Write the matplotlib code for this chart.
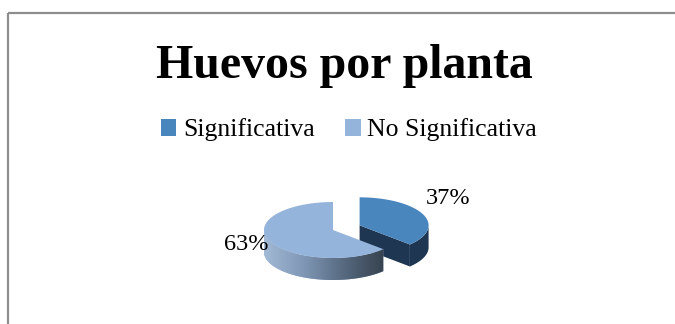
import numpy as np
import matplotlib.pyplot as plt
from matplotlib.patches import Polygon, Rectangle, Patch

plt.rcParams['font.family'] = ['Liberation Serif', 'DejaVu Serif']

title = "Huevos por planta"
categories = ["Significativa", "No Significativa"]
values = [37, 63]

top_colors = ["#4a86be", "#95b4db"]
side_colors = ["#1f3652", "#8fa8c8"]

W, H = 675, 324
fig = plt.figure(figsize=(W / 100, H / 100), dpi=100)
ax = fig.add_axes([0, 0, 1, 1])
ax.set_xlim(0, W)
ax.set_ylim(H, 0)
ax.axis("off")

# chart frame (right and bottom edges are cut off in the original)
ax.add_patch(Rectangle((7.5, 12.5), W + 20, H + 20, fill=False,
                       edgecolor="#8e8e8e", lw=1.6))

ax.text(344, 78, title, ha="center", va="baseline",
        fontsize=34.5, fontweight="bold")

# pseudo 3d pie, in pixel units
cx, cy = 333, 230
rx, ry, depth = 69, 28, 22
explode = [0.42, 0.0]
label_ang = [37, 203]
label_r = [1.6, 1.36]


def pt(x0, y0, a):
    r = np.radians(a)
    return x0 + rx * np.cos(r), y0 - ry * np.sin(r)


fracs = np.array(values) / sum(values)
start = 90.0
slices = []
for i, f in enumerate(fracs):
    a1 = start
    a0 = start - f * 360
    mid = (a0 + a1) / 2
    mr = np.radians(mid)
    ox = cx + explode[i] * rx * np.cos(mr)
    oy = cy - explode[i] * ry * np.sin(mr)
    slices.append((a0, a1, ox, oy, mid))
    start = a0

for i, (a0, a1, ox, oy, mid) in enumerate(slices):
    # radial face at the clockwise end, visible when it faces the viewer
    n = np.radians(a0 - 90)
    if np.sin(n) < -0.05:
        ex, ey = pt(ox, oy, a0)
        face = [(ox, oy), (ex, ey), (ex, ey + depth), (ox, oy + depth)]
        ax.add_patch(Polygon(face, closed=True, facecolor=side_colors[i] if i == 0 else "#5a6f88",
                             edgecolor="none"))
    # outer wall, front half only
    lo = a0
    hi = a1
    # map angles into the range where sin<0 (front)
    angs = np.linspace(lo, hi, 300)
    front = np.sin(np.radians(angs)) < 0
    if front.any():
        fa = angs[front]
        xs, ys = pt(ox, oy, fa)
        wall = np.vstack([np.column_stack([xs, ys]),
                          np.column_stack([xs[::-1], ys[::-1] + depth])])
        poly = Polygon(wall, closed=True, facecolor=side_colors[i], edgecolor="none")
        ax.add_patch(poly)
        if i == 1:
            # shaded wall: light on the left, dark on the right
            grad = np.linspace(0, 1, 256)[None, :]
            from matplotlib.colors import LinearSegmentedColormap
            cmap = LinearSegmentedColormap.from_list(
                "wall", ["#a3bad6", "#7f97b5", "#56697f", "#36424f"])
            im = ax.imshow(grad, cmap=cmap, aspect="auto",
                           extent=(xs.min(), xs.max(), ys.max() + depth, ys.min()),
                           zorder=poly.get_zorder())
            im.set_clip_path(poly)
    # top face
    arc = np.linspace(a0, a1, 200)
    xs, ys = pt(ox, oy, arc)
    top = np.vstack([[ox, oy], np.column_stack([xs, ys])])
    ax.add_patch(Polygon(top, closed=True, facecolor=top_colors[i],
                         edgecolor="none", zorder=3))
    # percentage label
    la = np.radians(label_ang[i])
    lx = ox + label_r[i] * rx * np.cos(la)
    ly = oy - label_r[i] * ry * np.sin(la)
    ax.text(lx, ly, f"{values[i] / sum(values):.0%}", ha="center", va="center",
            fontsize=17.5, zorder=4)

handles = [Patch(facecolor=c, edgecolor="none") for c in top_colors]
ax.legend(handles, categories, loc="center", bbox_to_anchor=(349 / W, 1 - 130 / H),
          ncol=2, frameon=False, fontsize=18.5, handlelength=0.6, handleheight=0.6,
          handletextpad=0.25, columnspacing=1.2, borderpad=0, borderaxespad=0)

fig.savefig("out.png", dpi=100)
